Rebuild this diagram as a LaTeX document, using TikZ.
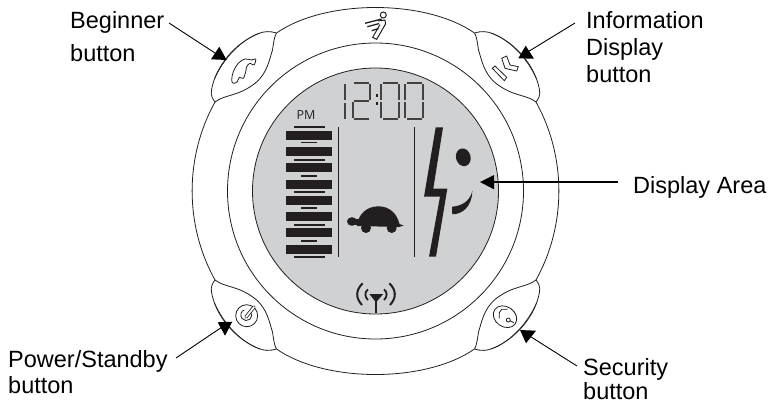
\documentclass[tikz,border=0pt]{standalone}
\usepackage{fontspec}
\setmainfont{Liberation Sans}
\newfontfamily\lcdfont{Open Sans}
\definecolor{lcd}{HTML}{CFD1D3}
\definecolor{ink}{HTML}{231F20}
\tikzset{
 body/.style={draw=ink, line width=0.8pt},
 seg/.style={draw=ink!85, line width=1.4pt},
 lbl/.style={inner sep=0pt, anchor=north west, align=left, font=\fontsize{23.5}{27}\selectfont},
 leader/.style={draw=black, line width=0.9pt},
}
\begin{document}
\begin{tikzpicture}[x=1pt,y=-1pt]
 \useasboundingbox (0,0) rectangle (776,405);

 % define a new command named \Button with 2 arguments
 \newcommand{\Button}[2]{
  % Draw a button with {xscale}{yscale}, the top left one is the plain form
  \begin{scope}[shift={(375.5,191)}, xscale=#1, yscale=#2]
   \draw [body, fill=white] (-99,-158) .. controls (-105,-160) and (-112,-160) .. (-118,-157)
    .. controls (-140,-148) and (-160,-125) .. (-164,-101)
    .. controls (-165,-96) and (-163,-92) .. (-160.5,-89)
    .. controls (-150,-97) and (-138,-94) .. (-120,-108)
    .. controls (-108,-118) and (-106,-132) .. (-103,-141)
    .. controls (-102,-148) and (-101,-155) .. (-99,-158);
   \draw [body, line width=0.6pt] (-161,-112) .. controls (-152,-132) and (-136,-150) .. (-116,-158);
  \end{scope}
 }

 % define a new command named \Head, a filled arrow head with a name at its middle
 \newcommand{\Head}[5]{
  \fill [black] #1 -- #2 -- #3 -- cycle;
  \coordinate (#5) at #4;
 }

 % outer ring, broken at the buttons
 \begin{scope}[shift={(375.5,191)}]
  \foreach \ys in {1,-1} {
   \draw [body] (-99,-158*\ys) .. controls (-50,-192*\ys) and (50,-192*\ys) .. (99,-158*\ys);
  }
  \foreach \xs in {1,-1} {
   \draw [body] (-160.5*\xs,-89) .. controls (-191*\xs,-34) and (-191*\xs,34) .. (-160.5*\xs,89);
  }
  \draw [body] (0,0) circle (148);
  \draw [body, fill=lcd] (0,0) circle (123);
 \end{scope}
 \Button{1}{1}
 \Button{-1}{1}
 \Button{1}{-1}
 \Button{-1}{-1}

 % button icons
 \draw [body] plot [smooth cycle, tension=0.6] coordinates {(231.7,80) (233.3,71.7) (238.3,63.3) (245,59) (251.7,60) (255.7,59) (254,65) (250,63.3) (246.7,66.7) (245.7,71.7) (243.3,78.3) (239.3,77.3) (237.3,81.7) (233.3,83.3)};
 \draw [body] (501.7,58.3) -- (506.7,56) -- (510,65) -- (518.3,66.7) -- (516.7,71) -- (505,68.3) -- cycle;
 \draw [body] (492.3,68.3) -- (495,66) -- (506.7,77.3) -- (504.3,80.7) -- cycle;
 \draw [body] (246.7,315.7) circle (11);
 \draw [body] (250.5,311.5) arc (-40:250:5.5);
 \draw [ink, line width=3.4pt, line cap=round] (246,317) -- (254,307);
 \draw [white, line width=1.8pt, line cap=round] (246,317) -- (254,307);
 \draw [body, rotate around={-35:(505,316.7)}] (505,316.7) ellipse (12.5 and 10);
 \draw [body] (499.3,318.3) -- (499.3,312.7) -- (501.7,309.3) -- (507.7,309.3);
 \draw [body] (508.3,320) circle (2);
 \draw [body] (510,320.8) -- (514,322.7);

 % rider on the top of the ring
 \draw [body, line width=1pt] (383.3,15) circle (3);
 \draw [body, line width=1pt] (378,21) -- (385,20) -- (385.5,24) -- (376.7,39.3) -- (372.7,37.3) -- (380,24.5);
 \draw [ink, line width=1.3pt] (365,23.3) -- (381.7,19);
 \draw [ink, line width=1.3pt] (367.3,26.7) -- (379,23.6);
 \draw [ink, line width=1.3pt] (371.7,30.7) -- (378.5,28.5);

 % clock
 \draw [seg] (345,84) -- (345,100);
 \draw [seg] (345,103) -- (345,119);
 \draw [seg] (354,83) -- (369,83);
 \draw [seg] (370,84) -- (370,100);
 \draw [seg] (354,101) -- (369,101);
 \draw [seg] (353,102) -- (353,118);
 \draw [seg] (354,119) -- (369,119);
 \fill [ink] (376.3,94) rectangle (378,97);
 \fill [ink] (376.3,102) rectangle (378,105);
 \foreach \xoffset in {381,405} {
  \draw [seg] (\xoffset,84) -- (\xoffset,100);
  \draw [seg] (\xoffset,102) -- (\xoffset,118);
  \draw [seg] (\xoffset+18,84) -- (\xoffset+18,100);
  \draw [seg] (\xoffset+18,102) -- (\xoffset+18,118);
  \draw [seg] (\xoffset+1.5,83) -- (\xoffset+16.5,83);
  \draw [seg] (\xoffset+1.5,119) -- (\xoffset+16.5,119);
 }

 % level bars
 \node [inner sep=0pt, font=\lcdfont\fontsize{12.5}{14}\selectfont, text=ink] (pm) at (306,115) {PM};
 \foreach \ytop in {131,147,163,180,196,212,228,245} {
  \fill [ink] (286,\ytop) rectangle (332,\ytop+9);
 }
 \foreach \ypos in {127,160,192,225,257} {
  \draw [ink, line width=1.3pt] (294,\ypos) -- (325,\ypos);
 }
 \foreach \ypos in {142.7,176,208,241} {
  \draw [ink, line width=1.3pt] (301,\ypos) -- (317,\ypos);
 }
 \draw [ink, line width=0.9pt] (338.5,127) -- (338.5,257);
 \draw [ink, line width=0.9pt] (414,127) -- (414,257);

 % turtle
 \fill [ink] (357,226) .. controls (358,214) and (367,206.3) .. (378.3,206.3)
  .. controls (390,206.3) and (397,214) .. (399.5,224) -- (403.5,225.5) -- (399,227) -- cycle;
 \fill [ink] (352,221.5) ellipse (5 and 4.3);
 \fill [ink] (354,218.5) rectangle (361,225);
 \fill [ink] (366,228) circle (5);
 \fill [ink] (391.7,228) circle (5);

 % bolt and face
 \fill [ink] (435.7,127.3) -- (443,127.3) -- (433.3,188.7) -- (447.3,188.7) -- (436,256.7) -- (429,256.7) -- (440,196.7) -- (424,196.7) -- cycle;
 \fill [ink, rotate around={15:(463.3,157.3)}] (463.3,157.3) ellipse (7.3 and 9);
 \fill [ink] (472.3,191) .. controls (472,207) and (462,214.3) .. (452.3,214.3) -- (452,206.7) .. controls (462,206) and (470,201) .. (472.3,191);

 % signal
 \fill [ink] (369.3,294) -- (383.3,294) -- (376,302.3) -- cycle;
 \draw [ink, line width=1.7pt] (376,298) -- (376,312.7);
 \foreach \xs in {1,-1} {
  \draw [ink, line width=2pt] (376+13.3*\xs,283.3) .. controls (376+20.5*\xs,290) and (376+20.5*\xs,298) .. (376+14*\xs,305);
  \draw [ink, line width=1.8pt] (376+8*\xs,289.3) .. controls (376+11.5*\xs,292) and (376+11.5*\xs,297) .. (376+8*\xs,300);
 }

 % labels and arrows
 \node [lbl] (beginnerLbl) at (70,11) {Beginner\\[6pt]button};
 \node [lbl] (infoLbl) at (586,11) {Information\\Display\\button};
 \node [lbl] (displayLbl) at (633,176) {Display Area};
 \node [lbl] (powerLbl) at (8,350) {Power/Standby\\[-1pt]button};
 \node [lbl] (securityLbl) at (583,358) {Security\\[-3pt]button};

 \Head{(219.3,46.7)}{(211,59.3)}{(226.7,60)}{(215,53)}{beginnerTip}
 \Head{(525.7,45.7)}{(518.3,58.3)}{(534,58.7)}{(526,53)}{infoTip}
 \Head{(480,182)}{(494,175)}{(494,189.3)}{(490,182)}{displayTip}
 \Head{(217.7,322.3)}{(232.3,321.7)}{(225,335.7)}{(225,325)}{powerTip}
 \Head{(520,330)}{(536,330.7)}{(526,343.3)}{(528,335)}{securityTip}

 \draw [leader] ([shift={(99,12)}]beginnerLbl.north west) -- (beginnerTip);
 \draw [leader] ([shift={(-11,12)}]infoLbl.north west) -- (infoTip);
 \draw [leader, line width=1.3pt] ([shift={(-15,6)}]displayLbl.north west) -- (displayTip);
 \draw [leader] ([shift={(168,8)}]powerLbl.north west) -- (powerTip);
 \draw [leader] ([shift={(-6,8)}]securityLbl.north west) -- (securityTip);
\end{tikzpicture}
\end{document}
